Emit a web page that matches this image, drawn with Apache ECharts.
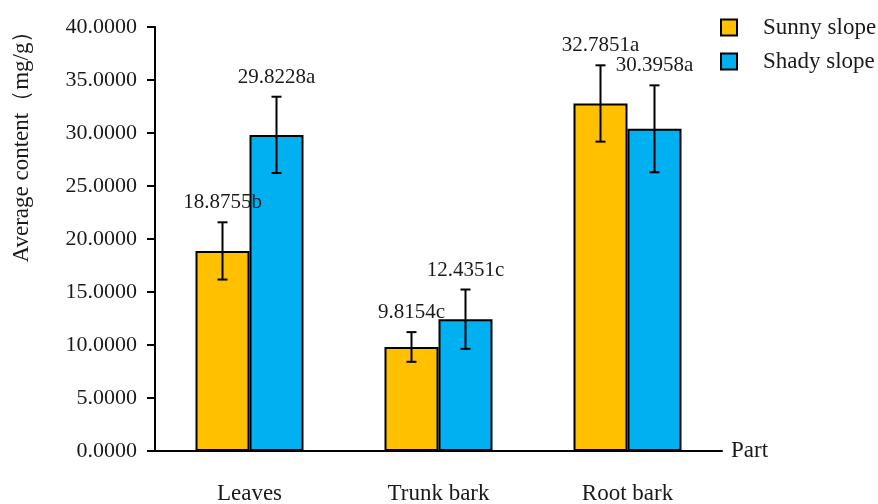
<!DOCTYPE html>
<html>
<head>
    <meta charset="utf-8">
    <title>Average content by part</title>
    <script src="https://cdn.jsdelivr.net/npm/echarts@6/dist/echarts.min.js"></script>
    <style>
        html, body { margin: 0; padding: 0; background: #fff; }
        #main { width: 878px; height: 504px; }
    </style>
</head>
<body>
    <div id="main"></div>
    <script type="text/javascript">
    var categories = ['Leaves', 'Trunk bark', 'Root bark'];
    var sunny = [18.8755, 9.8154, 32.7851];
    var shady = [29.8228, 12.4351, 30.3958];
    var sunnyErr = [2.7, 1.4, 3.6];
    var shadyErr = [3.6, 2.8, 4.1];
    var sunnyLetters = ['b', 'c', 'a'];
    var shadyLetters = ['a', 'c', 'a'];

    var FONT = "'Liberation Serif', 'Times New Roman', serif";
    var INK = '#1a1a1a';
    var BAR_W = 54;

    // error bar + value label drawn next to each bar
    function errorSeries(name, values, errs, letters, side) {
        return {
            type: 'custom',
            name: name + ' err',
            z: 5,
            data: values.map(function (v, i) { return [i, v, errs[i]]; }),
            renderItem: function (params, api) {
                var i = api.value(0), v = api.value(1), e = api.value(2);
                var hi = api.coord([i, v + e]);
                var lo = api.coord([i, v - e]);
                var x = hi[0] + side * BAR_W / 2;
                var cap = 5;
                var st = { stroke: '#000', lineWidth: 2 };
                return {
                    type: 'group',
                    children: [
                        { type: 'line', shape: { x1: x, y1: hi[1], x2: x, y2: lo[1] }, style: st },
                        { type: 'line', shape: { x1: x - cap, y1: hi[1], x2: x + cap, y2: hi[1] }, style: st },
                        { type: 'line', shape: { x1: x - cap, y1: lo[1], x2: x + cap, y2: lo[1] }, style: st },
                        { type: 'text', x: x, y: hi[1] - 9, style: {
                            text: values[i].toFixed(4) + letters[i],
                            fill: INK, font: '21px ' + FONT,
                            align: 'center', verticalAlign: 'bottom' } }
                    ]
                };
            }
        };
    }

    var chart = echarts.init(document.getElementById('main'), null, { renderer: 'canvas' });
    chart.setOption({
        animation: false,
        textStyle: { fontFamily: FONT, color: INK },
        grid: { left: 155, right: 156, top: 27, bottom: 53, outerBoundsMode: 'none' },
        legend: {
            orient: 'vertical',
            left: 720, top: 16,
            padding: 0,
            icon: 'rect',
            itemWidth: 16, itemHeight: 16,
            itemGap: 11,
            data: ['Sunny slope', 'Shady slope'],
            itemStyle: { borderColor: '#000', borderWidth: 2 },
            textStyle: { fontFamily: FONT, fontSize: 23, color: INK, padding: [0, 0, 12, 21] }
        },
        graphic: [{
            type: 'text', x: 22, y: 141, rotation: Math.PI / 2,
            style: { text: 'Average content（mg/g）', font: '23px ' + FONT, fill: INK,
                     align: 'center', verticalAlign: 'middle' }
        }],
        xAxis: {
            type: 'category',
            data: categories,
            name: 'Part',
            nameLocation: 'end',
            nameGap: 9,
            nameTextStyle: { fontFamily: FONT, fontSize: 23, color: INK },
            axisLine: { lineStyle: { color: '#000', width: 2 } },
            axisTick: { length: 8, lineStyle: { color: '#000', width: 2 } },
            axisLabel: { fontFamily: FONT, fontSize: 23, color: INK, margin: 31 }
        },
        yAxis: {
            type: 'value',
            min: 0, max: 40, interval: 5,
            axisLine: { show: true, lineStyle: { color: '#000', width: 2 } },
            axisTick: { show: true, length: 8, lineStyle: { color: '#000', width: 2 } },
            splitLine: { show: false },
            axisLabel: {
                fontFamily: FONT, fontSize: 22, color: INK, margin: 18,
                formatter: function (v) { return v.toFixed(4); }
            }
        },
        series: [
            {
                type: 'bar', name: 'Sunny slope', data: sunny,
                barWidth: BAR_W, barGap: '0%',
                itemStyle: { color: '#FFC000', borderColor: '#000', borderWidth: 2 }
            },
            {
                type: 'bar', name: 'Shady slope', data: shady,
                barWidth: BAR_W, barGap: '0%',
                itemStyle: { color: '#00B0F0', borderColor: '#000', borderWidth: 2 }
            },
            errorSeries('Sunny slope', sunny, sunnyErr, sunnyLetters, -1),
            errorSeries('Shady slope', shady, shadyErr, shadyLetters, 1)
        ]
    });
    </script>
</body>
</html>
